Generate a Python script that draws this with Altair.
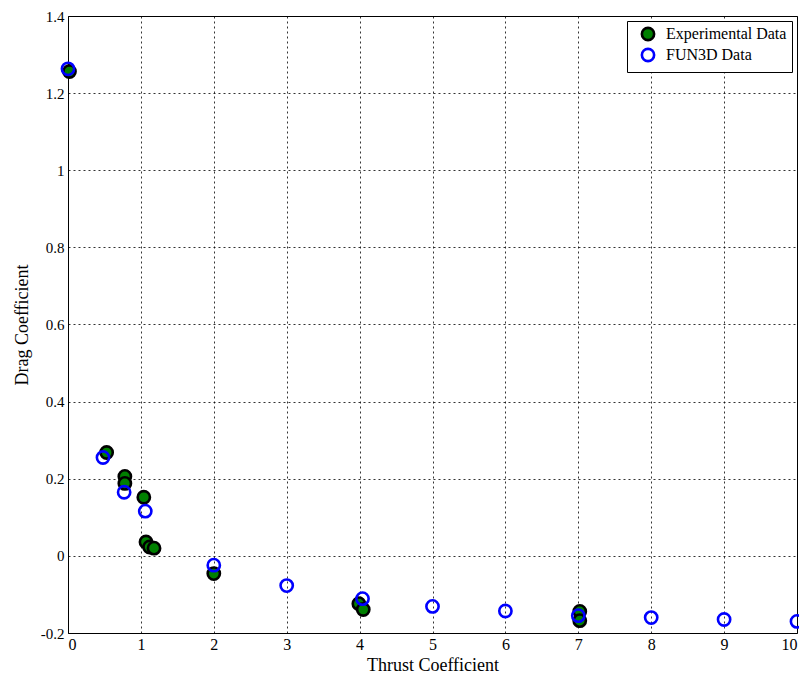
import altair as alt
import pandas as pd

exp_ct = [0.02, 0.53, 0.78, 0.78, 1.04, 1.07, 1.12, 1.18, 2.0, 3.99, 4.05, 7.02, 7.02]
exp_cd = [1.256, 0.268, 0.206, 0.188, 0.152, 0.036, 0.023, 0.02, -0.046, -0.124, -0.139, -0.144, -0.168]

cfd_ct = [0.0, 0.48, 0.77, 1.06, 2.0, 3.0, 4.04, 5.0, 6.0, 7.0, 8.0, 9.0, 10.0]
cfd_cd = [1.263, 0.255, 0.165, 0.116, -0.024, -0.077, -0.111, -0.131, -0.143, -0.155, -0.160, -0.165, -0.170]

series = ["Experimental Data", "FUN3D Data"]

df = pd.DataFrame(
    [{"ct": x, "cd": y, "series": series[0]} for x, y in zip(exp_ct, exp_cd)]
    + [{"ct": x, "cd": y, "series": series[1]} for x, y in zip(cfd_ct, cfd_cd)]
)

FONT = "Liberation Serif"

chart = (
    alt.Chart(df)
    .mark_circle(size=150, strokeWidth=2.6, opacity=1)
    .encode(
        x=alt.X(
            "ct:Q",
            title="Thrust Coefficient",
            scale=alt.Scale(domain=[0, 10], nice=False, zero=False),
            axis=alt.Axis(values=list(range(0, 11)), labelExpr="'' + round(datum.value)",
                          labelFont=FONT),
        ),
        y=alt.Y(
            "cd:Q",
            title="Drag Coefficient",
            scale=alt.Scale(domain=[-0.2, 1.4], nice=False, zero=False),
            axis=alt.Axis(
                values=[-0.2, 0, 0.2, 0.4, 0.6, 0.8, 1.0, 1.2, 1.4],
                labelExpr="'' + round(datum.value*10)/10",
                labelFont=FONT,
            ),
        ),
        fill=alt.Fill(
            "series:N",
            scale=alt.Scale(domain=series, range=["#008000", "rgba(0,0,0,0)"]),
            legend=alt.Legend(title=None),
        ),
        stroke=alt.Stroke(
            "series:N",
            scale=alt.Scale(domain=series, range=["#000000", "#0000ff"]),
            legend=alt.Legend(title=None),
        ),
        order=alt.Order("series:N"),
    )
    .properties(
        width=729,
        height=617,
        autosize=alt.AutoSizeParams(type="none"),
        padding={"left": 60, "top": 8, "right": 2, "bottom": 40},
    )
    .configure_view(stroke="#000000", strokeWidth=1)
    .configure_axis(
        grid=True,
        gridColor="#000000",
        gridDash=[2, 3],
        gridOpacity=0.8,
        gridWidth=1,
        domain=False,
        ticks=False,
        labelFont=FONT,
        labelFontSize=16,
        labelColor="#000000",
        titleFont=FONT,
        titleFontSize=18,
        titleFontWeight="normal",
        titleColor="#000000",
    )
    .configure_axisX(labelPadding=3, titlePadding=4, labelFont=FONT)
    .configure_axisY(labelPadding=4, titlePadding=9, labelFontSize=15, labelFont=FONT)
    .configure_legend(
        orient="top-right",
        offset=5,
        strokeColor="#000000",
        fillColor="#ffffff",
        padding=5,
        labelFont=FONT,
        labelFontSize=16,
        labelColor="#000000",
        labelOffset=10,
        symbolOffset=8,
        symbolSize=150,
        symbolStrokeWidth=2.6,
        rowPadding=-3,
    )
)

chart.save("out.html", embed_options={"renderer": "svg", "actions": False})
